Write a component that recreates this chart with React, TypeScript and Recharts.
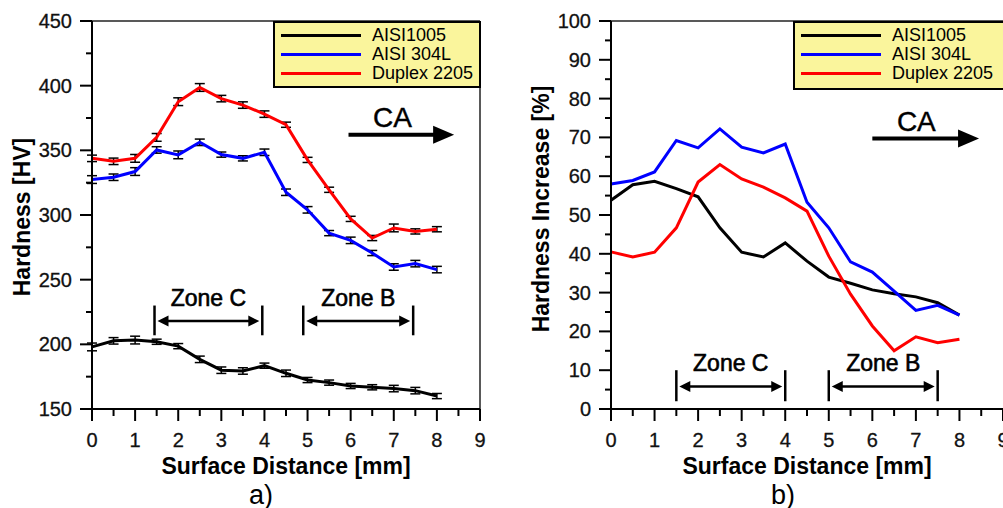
import React from 'react';
import { LineChart, Line, XAxis, YAxis, ReferenceLine, Legend, ErrorBar } from 'recharts';

const FONT = '"Liberation Sans", Arial, Helvetica, sans-serif';

// surface distance [mm]
const distance = [0, 0.5, 1, 1.5, 2, 2.5, 3, 3.5, 4, 4.5, 5, 5.5, 6, 6.5, 7, 7.5, 8];

// a) hardness [HV]
const hvAisi1005 = [198, 202.7, 203.3, 202, 198.6, 188.4, 180, 179.4, 183.5, 177.6, 172.4, 170.4, 167.8, 166.8, 165.8, 164.2, 160];
const hvAisi304L = [327.4, 329.2, 333.6, 350.3, 346.5, 356.2, 346.7, 343.8, 348.5, 317.6, 304, 286, 280.4, 270.6, 259.8, 262.4, 257.8];
const hvDuplex2205 = [343.8, 341.5, 343.8, 360, 387.6, 398.6, 390, 385, 378, 369.8, 342.6, 319.5, 297, 282.2, 290, 287.3, 289];
const errAisi1005 = [3, 2.5, 3, 2, 2, 2.5, 2.5, 2.5, 2, 2.5, 2, 2, 2, 2, 2.5, 2.5, 2];
const errAisi304L = [3, 2.5, 3, 2.5, 3, 2.5, 2, 2, 2.5, 2.5, 2.5, 2, 2.5, 2, 2.5, 2.5, 2.5];
const errDuplex2205 = [2.5, 2.5, 3, 3, 3, 3, 2.5, 2.5, 2.5, 2, 2, 2, 2, 2, 3, 2, 2];

// b) hardness increase [%]
const incAisi1005 = [53.8, 57.8, 58.7, 56.8, 54.7, 46.7, 40.4, 39.2, 42.8, 38.1, 34, 32.4, 30.7, 29.7, 28.9, 27.4, 24.2];
const incAisi304L = [58, 58.9, 61.1, 69.2, 67.3, 72.2, 67.5, 66, 68.3, 53.3, 46.7, 37.9, 35.3, 30.4, 25.4, 26.7, 24.2];
const incDuplex2205 = [40.5, 39.2, 40.4, 46.7, 58.5, 63, 59.3, 57.2, 54.4, 51, 39.4, 29.6, 21.4, 15, 18.6, 17.1, 18];

const seriesNames = ['AISI1005', 'AISI 304L', 'Duplex 2205'];
const seriesColors = ['#000000', '#0000ff', '#ff0000'];

const xTicks = [0, 0.5, 1, 1.5, 2, 2.5, 3, 3.5, 4, 4.5, 5, 5.5, 6, 6.5, 7, 7.5, 8, 8.5, 9];
const hvTicks = [150, 175, 200, 225, 250, 275, 300, 325, 350, 375, 400, 425, 450];
const incTicks = [0, 5, 10, 15, 20, 25, 30, 35, 40, 45, 50, 55, 60, 65, 70, 75, 80, 85, 90, 95, 100];

// zone annotations (x range, y of bars/arrow)
const zonesA = [
  { name: 'Zone C', from: 1.45, to: 3.95 },
  { name: 'Zone B', from: 4.9, to: 7.45 },
];
const zoneBarA = [207, 230];
const zoneArrowA = 218;
const zonesB = [
  { name: 'Zone C', from: 1.5, to: 4 },
  { name: 'Zone B', from: 5, to: 7.5 },
];
const zoneBarB = [2, 10];
const zoneArrowB = 5.8;

const hardnessData = distance.map((d, i) => ({
  d,
  a: hvAisi1005[i],
  b: hvAisi304L[i],
  c: hvDuplex2205[i],
  ea: errAisi1005[i],
  eb: errAisi304L[i],
  ec: errDuplex2205[i],
}));

const increaseData = distance.map((d, i) => ({
  d,
  a: incAisi1005[i],
  b: incAisi304L[i],
  c: incDuplex2205[i],
}));

const XTick = ({ x, y, payload }: any) => {
  const v = payload.value;
  const major = Number.isInteger(v);
  return (
    <g>
      <line x1={x} x2={x} y1={y} y2={y + (major ? 12 : 7)} stroke="#000" strokeWidth={2} />
      {major && (
        <text x={x} y={y + 38} textAnchor="middle" fontSize={20} fill="#111" stroke="#111" strokeWidth={0.3} fontFamily={FONT}>
          {v}
        </text>
      )}
    </g>
  );
};

const makeYTick = (step: number) => ({ x, y, payload }: any) => {
  const v = payload.value;
  const major = v % step === 0;
  return (
    <g>
      <line x1={x - (major ? 12 : 6)} x2={x} y1={y} y2={y} stroke="#000" strokeWidth={2} />
      {major && (
        <text x={x - 20} y={y + 7} textAnchor="end" fontSize={20} fill="#111" stroke="#111" strokeWidth={0.3} fontFamily={FONT}>
          {v}
        </text>
      )}
    </g>
  );
};

const zoneArrow = (label: string) => (props: any) => {
  const { x1, y1, x2 } = props;
  const a = x1 + 3;
  const b = x2 - 3;
  return (
    <g>
      <line x1={a + 9} x2={b - 9} y1={y1} y2={y1} stroke="#000" strokeWidth={2.5} />
      <polygon points={`${a},${y1} ${a + 11},${y1 - 5.5} ${a + 11},${y1 + 5.5}`} fill="#000" />
      <polygon points={`${b},${y1} ${b - 11},${y1 - 5.5} ${b - 11},${y1 + 5.5}`} fill="#000" />
      <text x={(x1 + x2) / 2} y={y1 - 15} textAnchor="middle" fontSize={23} fill="#000" stroke="#000" strokeWidth={0.6} fontFamily={FONT}>
        {label}
      </text>
    </g>
  );
};

const caArrow = (props: any) => {
  const { x1, y1, x2 } = props;
  return (
    <g>
      <line x1={x1} x2={x2 - 18} y1={y1} y2={y1} stroke="#000" strokeWidth={4} />
      <polygon points={`${x2},${y1} ${x2 - 21},${y1 - 9} ${x2 - 21},${y1 + 9}`} fill="#000" />
      <text x={x1 + 44} y={y1 - 8} textAnchor="middle" fontSize={28} fill="#000" stroke="#000" strokeWidth={0.4} fontFamily={FONT}>
        CA
      </text>
    </g>
  );
};

const legendBox = (w: number, h: number, borderRight: boolean) => (props: any) => {
  const items = [...(props.payload || [])].sort(
    (p: any, q: any) => seriesNames.indexOf(p.value) - seriesNames.indexOf(q.value)
  );
  return (
    <div
      style={{
        width: w,
        height: h,
        boxSizing: 'border-box',
        background: '#faf59c',
        border: '2px solid #000',
        borderRight: borderRight ? '2px solid #000' : 'none',
        padding: '3px 0 0 6px',
        fontFamily: FONT,
        fontSize: 18,
        color: '#000',
      }}
    >
      {items.map((p: any) => (
        <div key={p.value} style={{ display: 'flex', alignItems: 'center', height: 19 }}>
          <span style={{ display: 'inline-block', width: 80, height: 3, background: p.color, marginRight: 11 }} />
          <span>{p.value}</span>
        </div>
      ))}
    </div>
  );
};

const Txt = ({ x, y, size, bold, rotate, children }: any) => (
  <div
    style={{
      position: 'absolute',
      left: x,
      top: y,
      transform: `translate(-50%, -50%)${rotate ? ' rotate(-90deg)' : ''}`,
      fontFamily: FONT,
      fontSize: size,
      fontWeight: bold ? 'bold' : 'normal',
      whiteSpace: 'nowrap',
      lineHeight: 1,
      color: '#000',
    }}
  >
    {children}
  </div>
);

const axisLine = { stroke: '#000', strokeWidth: 2 };

export default function App() {
  return (
    <div style={{ position: 'absolute', left: 0, top: 0, width: 1003, height: 508, background: '#fff', overflow: 'hidden' }}>
      <div style={{ position: 'absolute', left: 0, top: 0 }}>
        <LineChart width={500} height={508} data={hardnessData} margin={{ top: 21, right: 20, bottom: 69, left: 32 }}>
          <XAxis
            dataKey="d"
            type="number"
            domain={[0, 9]}
            ticks={xTicks}
            interval={0}
            height={30}
            tickSize={0}
            tickMargin={0}
            tickLine={false}
            axisLine={axisLine}
            tick={<XTick />}
          />
          <YAxis
            type="number"
            domain={[150, 450]}
            ticks={hvTicks}
            interval={0}
            width={60}
            tickSize={0}
            tickMargin={0}
            tickLine={false}
            axisLine={axisLine}
            tick={makeYTick(50)}
          />
          <ReferenceLine y={450} stroke="#222" strokeWidth={1.5} />
          <ReferenceLine x={9} stroke="#222" strokeWidth={1.5} />
          {zonesA.map((z) => (
            <React.Fragment key={z.name}>
              <ReferenceLine segment={[{ x: z.from, y: zoneBarA[0] }, { x: z.from, y: zoneBarA[1] }]} stroke="#000" strokeWidth={2.5} />
              <ReferenceLine segment={[{ x: z.to, y: zoneBarA[0] }, { x: z.to, y: zoneBarA[1] }]} stroke="#000" strokeWidth={2.5} />
              <ReferenceLine segment={[{ x: z.from, y: zoneArrowA }, { x: z.to, y: zoneArrowA }]} shape={zoneArrow(z.name)} />
            </React.Fragment>
          ))}
          <ReferenceLine segment={[{ x: 5.95, y: 362 }, { x: 8.4, y: 362 }]} shape={caArrow} />
          <Line dataKey="a" name={seriesNames[0]} stroke={seriesColors[0]} strokeWidth={3} dot={false} isAnimationActive={false}>
            <ErrorBar dataKey="ea" direction="y" width={5} stroke="#000" strokeWidth={1.5} isAnimationActive={false} />
          </Line>
          <Line dataKey="b" name={seriesNames[1]} stroke={seriesColors[1]} strokeWidth={3} dot={false} isAnimationActive={false}>
            <ErrorBar dataKey="eb" direction="y" width={5} stroke="#000" strokeWidth={1.5} isAnimationActive={false} />
          </Line>
          <Line dataKey="c" name={seriesNames[2]} stroke={seriesColors[2]} strokeWidth={3} dot={false} isAnimationActive={false}>
            <ErrorBar dataKey="ec" direction="y" width={5} stroke="#000" strokeWidth={1.5} isAnimationActive={false} />
          </Line>
          <Legend
            layout="horizontal"
            verticalAlign="middle"
            align="center"
            wrapperStyle={{ left: 273, top: 21, width: 208, height: 67 }}
            content={legendBox(208, 67, true)}
          />
        </LineChart>
      </div>

      <div style={{ position: 'absolute', left: 503, top: 0 }}>
        <LineChart width={500} height={508} data={increaseData} margin={{ top: 21, right: 0, bottom: 69, left: 48 }}>
          <XAxis
            dataKey="d"
            type="number"
            domain={[0, 9]}
            ticks={xTicks}
            interval={0}
            height={30}
            tickSize={0}
            tickMargin={0}
            tickLine={false}
            axisLine={axisLine}
            tick={<XTick />}
          />
          <YAxis
            type="number"
            domain={[0, 100]}
            ticks={incTicks}
            interval={0}
            width={60}
            tickSize={0}
            tickMargin={0}
            tickLine={false}
            axisLine={axisLine}
            tick={makeYTick(10)}
          />
          <ReferenceLine y={100} stroke="#222" strokeWidth={1.5} />
          {zonesB.map((z) => (
            <React.Fragment key={z.name}>
              <ReferenceLine segment={[{ x: z.from, y: zoneBarB[0] }, { x: z.from, y: zoneBarB[1] }]} stroke="#000" strokeWidth={2.5} />
              <ReferenceLine segment={[{ x: z.to, y: zoneBarB[0] }, { x: z.to, y: zoneBarB[1] }]} stroke="#000" strokeWidth={2.5} />
              <ReferenceLine segment={[{ x: z.from, y: zoneArrowB }, { x: z.to, y: zoneArrowB }]} shape={zoneArrow(z.name)} />
            </React.Fragment>
          ))}
          <ReferenceLine segment={[{ x: 6, y: 69.7 }, { x: 8.45, y: 69.7 }]} shape={caArrow} />
          <Line type="linear" dataKey="a" name={seriesNames[0]} stroke={seriesColors[0]} strokeWidth={3} dot={false} isAnimationActive={false} />
          <Line type="linear" dataKey="b" name={seriesNames[1]} stroke={seriesColors[1]} strokeWidth={3} dot={false} isAnimationActive={false} />
          <Line type="linear" dataKey="c" name={seriesNames[2]} stroke={seriesColors[2]} strokeWidth={3} dot={false} isAnimationActive={false} />
          <Legend
            layout="horizontal"
            verticalAlign="middle"
            align="center"
            wrapperStyle={{ left: 290, top: 21, width: 215, height: 69 }}
            content={legendBox(215, 69, false)}
          />
        </LineChart>
      </div>

      <Txt x={22} y={217} size={23} bold rotate>Hardness [HV]</Txt>
      <Txt x={541} y={209} size={23} bold rotate>Hardness Increase [%]</Txt>
      <Txt x={286} y={466} size={23} bold>Surface Distance [mm]</Txt>
      <Txt x={807} y={466} size={23} bold>Surface Distance [mm]</Txt>
      <Txt x={261} y={495} size={27}>a)</Txt>
      <Txt x={783} y={495} size={27}>b)</Txt>
    </div>
  );
}
